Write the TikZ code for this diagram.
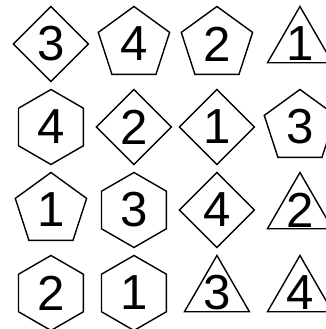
\documentclass[tikz,border=0pt]{standalone}
\usepackage{fontspec}
\setsansfont{Liberation Sans}
\usepackage{tikz}
\usetikzlibrary{shapes.geometric}
\tikzset{every picture/.style={/utils/exec={\sffamily}}}
\tikzset{
  poly/.style={draw, line width=0.8pt, inner sep=0pt, minimum size=1.5cm,
    label={[font=\fontsize{28}{28}\selectfont, inner sep=0pt]center:#1}},
  diam/.style={poly=#1, regular polygon, regular polygon sides=4, shape border rotate=45},
  pent/.style={poly=#1, regular polygon, regular polygon sides=5},
  hexa/.style={poly=#1, regular polygon, regular polygon sides=6, shape border rotate=30},
  tri/.style={poly=#1, regular polygon, regular polygon sides=3}
}

\begin{document}
\begin{tikzpicture}[x=1.66cm, y=1.66cm]
        \useasboundingbox (-0.614, 0.530) rectangle (3.313, -3.434);
        % Row 1
        \node[diam=3] (a1) at (0, 0) {};
        \node[pent=4] (a2) at (1, 0) {};
        \node[pent=2] (a3) at (2, 0) {};
        \node[tri=1]  (a4) at (3, 0) {};
        % Row 2
        \node[hexa=4] (b1) at (0, -1) {};
        \node[diam=2] (b2) at (1, -1) {};
        \node[diam=1] (b3) at (2, -1) {};
        \node[pent=3] (b4) at (3, -1) {};
        % Row 3
        \node[pent=1] (c1) at (0, -2) {};
        \node[hexa=3] (c2) at (1, -2) {};
        \node[diam=4] (c3) at (2, -2) {};
        \node[tri=2]  (c4) at (3, -2) {};
        % Row 4
        \node[hexa=2] (d1) at (0, -3) {};
        \node[hexa=1] (d2) at (1, -3) {};
        \node[tri=3]  (d3) at (2, -3) {};
        \node[tri=4]  (d4) at (3, -3) {};
    \end{tikzpicture}
\end{document}
